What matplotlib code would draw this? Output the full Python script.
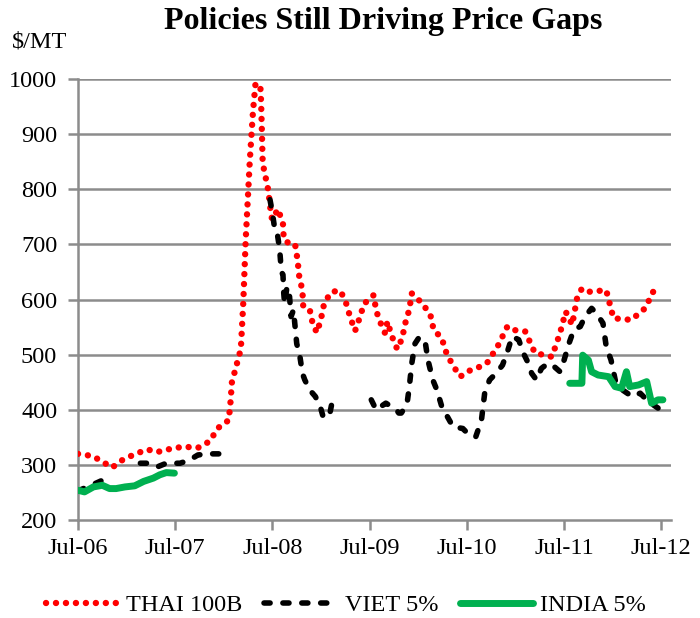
import numpy as np
import matplotlib
matplotlib.use("Agg")
import matplotlib.pyplot as plt
from matplotlib.lines import Line2D

# x values: months since Jul-2006
thai_x = [0, 1.8, 3, 4.2, 5.5, 7.1, 8.6, 9.7, 11.4, 13,
          14.8, 16.3, 17.2, 18.6, 18.8, 19.0, 20.1, 20.4, 20.7, 21.0,
          21.2, 21.6, 21.9, 22.5, 22.6, 22.65, 22.7, 22.75, 22.8, 23.1,
          23.5, 23.7, 23.95, 24.7, 25.3, 25.4, 26.2, 26.8, 27.1, 27.3,
          27.7, 27.8, 28.6, 29.0, 29.5, 30.0, 30.4, 31.3, 32.4, 33.1,
          33.6, 34.2, 34.8, 35.3, 36.5, 36.8, 37.3, 37.9, 38.2, 38.7,
          39.4, 40, 40.4, 40.9, 41.2, 42.5, 43.5, 43.9, 44.9, 45.4,
          46.2, 47.2, 48, 49.6, 50.5, 51.8, 53, 53.6, 55.2, 56.4,
          58.5, 59.5, 60.2, 61, 61.6, 62.2, 63.2, 65.2, 66.1, 68.3,
          70, 71, 71.8]
thai_y = [320, 316, 306, 295, 309, 320, 328, 323, 329, 333,
          331, 343, 366, 381, 409, 450, 510, 594, 708, 793,
          850, 941, 990, 990, 959, 932, 904, 875, 847, 826,
          797, 770, 745, 764, 737, 709, 700, 700, 672, 643,
          616, 588, 582, 554, 540, 565, 594, 614, 616, 593,
          568, 543, 568, 592, 608, 580, 559, 539, 560, 535,
          510, 529, 557, 582, 611, 593, 572, 545, 530, 506,
          482, 460, 469, 478, 485, 515, 551, 545, 542, 503,
          496, 539, 578, 554, 602, 620, 614, 617, 566, 563,
          584, 614, 605]

viet_x = [0, 1.5, 3.6, 4, 7.7, 8.9, 9.9, 10.9, 12.6, 13.8,
          14.8, 16.3, 18.2, 18.3, 23.7, 24.0, 24.3, 24.6, 24.9, 25.1,
          25.3, 25.4, 25.5, 25.8, 26.1, 26.3, 26.6, 27, 27.4, 27.7,
          28, 28.6, 29.3, 29.9, 30.3, 31.1, 31.3, 31.6, 35.9, 36.2,
          36.8, 38, 39.3, 39.6, 39.9, 40.6, 40.9, 41.2, 41.6, 42,
          42.8, 43.2, 43.8, 44.3, 44.9, 45.5, 46.3, 47.5, 48.3, 49.1,
          49.8, 50.2, 50.8, 51.6, 52.4, 53, 53.6, 54.4, 55, 55.6,
          56, 56.6, 57.2, 58, 58.8, 59.5, 60, 60.6, 61.2, 62,
          62.6, 63.4, 64, 64.8, 65.2, 65.8, 66.4, 67.2, 68.4, 69.4,
          70.4, 71.6]
viet_y = [253, 262, 276, np.nan, 303, 303, 297, 303, 303, 309,
          318, 320, 320, np.nan, 781, 757, 726, 720, 690, 650,
          645, 611, 593, 623, 608, 569, 581, 520, 496, 466,
          454, 436, 424, 406, 385, 394, 409, 412, np.nan, 418,
          400, 412, 400, 394, 394, 409, 442, 484, 520, 529,
          529, 490, 454, 436, 406, 390, 369, 366, 354, 351,
          381, 430, 454, 466, 481, 505, 533, 527, 502, 484,
          466, 454, 475, 484, 478, 469, 490, 520, 545, 551,
          569, 584, 575, 557, 515, 490, 448, 436, 424, 430,
          415, 403]

india_x = [0, 0.8, 1.9, 3, 3.9, 4.7, 5.8, 7.0, 8.1, 9.3,
           10.1, 10.9, 11.9, 12.0, 60.7, 62.2, 62.3, 63, 63.4, 64.2,
           65.5, 66.3, 67.1, 67.7, 68.1, 69.2, 70.2, 70.8, 71.6, 72.2]
india_y = [254, 251, 260, 263, 257, 257, 260, 262, 270, 276,
           282, 286, 285, np.nan, 448, 448, 499, 490, 469, 463,
           460, 442, 439, 469, 442, 445, 451, 412, 418, 418]

tick_pos = [0, 12, 24, 36, 48, 60, 72]
tick_labels = ["Jul-06", "Jul-07", "Jul-08", "Jul-09", "Jul-10", "Jul-11", "Jul-12"]
y_ticks = [200, 300, 400, 500, 600, 700, 800, 900, 1000]

plt.rcParams['font.family'] = ['Liberation Serif', 'DejaVu Serif']

fig = plt.figure(figsize=(7.0, 6.18), dpi=100)
ax = fig.add_axes([78/700, 1-520/618, (671-78)/700, (520-79)/618])

grid_c = "#8c8c8c"
for v in y_ticks[1:]:
    ax.axhline(v, color=grid_c, lw=1.8, zorder=0)

thai_ls = (0, (0.01, 1.55))
viet_ls = (0, (1.1, 2.3))
ax.plot(thai_x, thai_y, color="#ff0000", lw=4.6, linestyle=thai_ls,
        dash_capstyle="round", zorder=3)
ax.plot(viet_x, viet_y, color="black", lw=4.0, linestyle=viet_ls,
        dash_capstyle="round", zorder=4)
ax.plot(india_x, india_y, color="#00b050", lw=5, solid_capstyle="round",
        solid_joinstyle="round", zorder=5)

ax.set_xlim(0, 73.2)
ax.set_ylim(200, 1000)
ax.set_yticks(y_ticks)
ax.set_xticks(tick_pos)
ax.set_xticklabels(tick_labels)
ax.tick_params(axis='both', colors=grid_c, labelcolor='black', labelsize=17.5,
               width=1.8, length=7, direction='out')
ax.tick_params(axis='x', pad=6)
ax.tick_params(axis='y', pad=8)
for s in ['top', 'right']:
    ax.spines[s].set_visible(False)
for s in ['left', 'bottom']:
    ax.spines[s].set_color(grid_c)
    ax.spines[s].set_linewidth(1.8)

fig.text(383/700, 1-22/618, "Policies Still Driving Price Gaps", ha='center', va='center',
         fontsize=23, fontweight='bold')
fig.text(12/700, 1-42/618, "$/MT", ha='left', va='center', fontsize=17.5)

handles = [
    Line2D([], [], color="#ff0000", lw=4.6, linestyle=thai_ls, dash_capstyle="round"),
    Line2D([], [], color="black", lw=4.0, linestyle=viet_ls, dash_capstyle="round"),
    Line2D([], [], color="#00b050", lw=5, solid_capstyle="round"),
]
fig.legend(handles, ["THAI 100B", "VIET 5%", "INDIA 5%"], loc='center',
           bbox_to_anchor=(346/700, 1-605/618), ncol=3, frameon=False, fontsize=17.5,
           handlelength=3.0, handletextpad=0.3, columnspacing=0.9)

fig.savefig("out.png", dpi=100)
